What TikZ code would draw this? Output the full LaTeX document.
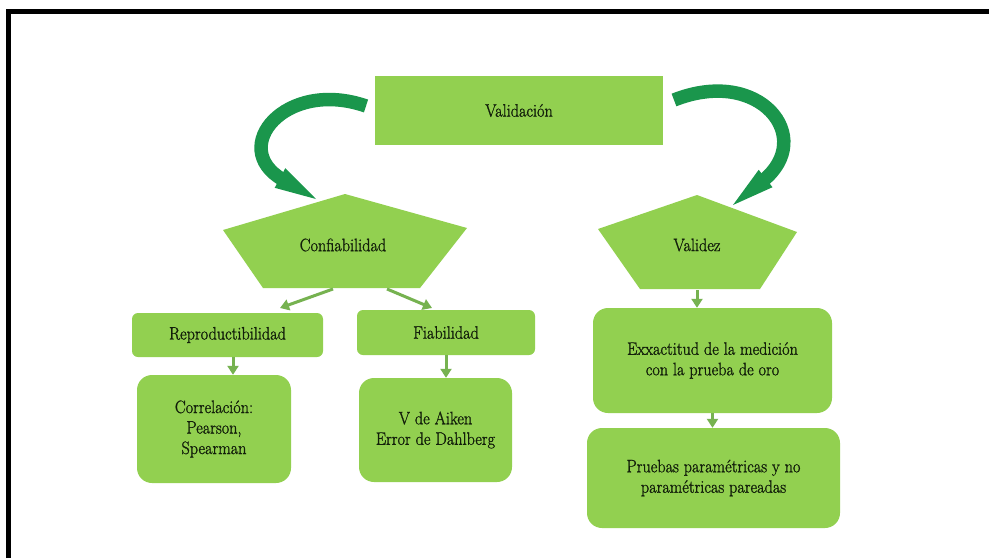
\documentclass[tikz,border=0pt]{standalone}
\usepackage{fontspec}
\newfontfamily\lbfont{Latin Modern Roman}[FakeStretch=0.9, FakeBold=1.2]
\usetikzlibrary{arrows.meta}
\definecolor{boxgreen}{RGB}{146,208,80}
\definecolor{arrowdark}{RGB}{26,150,76}
\definecolor{smallarrow}{RGB}{118,178,80}
\definecolor{txt}{RGB}{18,30,10}
\begin{document}
\begin{tikzpicture}[x=1pt,y=-1pt,
  lbl/.style={font=\lbfont\fontsize{18}{20.5}\selectfont, text=txt, align=center, inner sep=0pt},
  gbox/.style={lbl, fill=boxgreen},
  smallarr/.style={draw=smallarrow, line width=3pt, -{Triangle[length=9pt,width=11pt]}},
  bigbody/.style={draw=arrowdark, line width=13.5pt},
  bighead/.style={fill=arrowdark}
]
\useasboundingbox (0,0) rectangle (989,558);
\fill[white] (0,0) rectangle (989,558);
\draw[line width=5pt] (8.5,558) -- (8.5,11.5) -- (989,11.5);

% top box
\node[gbox, minimum width=288pt, minimum height=69pt] (valid) at (519,110.5) {Validación};

% pentagons
\coordinate (ca) at (345,194);
\coordinate (cl) at (223,230);
\coordinate (cbl) at (263,288);
\coordinate (cbr) at (420,288);
\coordinate (cr) at (467,228);
\fill[boxgreen] (ca) -- (cl) -- (cbl) -- (cbr) -- (cr) -- cycle;
\node[lbl] (conf) at (343,245) {Confiabilidad};

\coordinate (va) at (697,195);
\coordinate (vl) at (598,229);
\coordinate (vbl) at (640,289);
\coordinate (vbr) at (760,289);
\coordinate (vr) at (797,232);
\fill[boxgreen] (va) -- (vl) -- (vbl) -- (vbr) -- (vr) -- cycle;
\node[lbl] (valz) at (697,245) {Validez};

% boxes
\node[gbox, rounded corners=6pt, minimum width=191pt, minimum height=44pt] (rep) at (227.5,335) {Reproductibilidad};
\node[gbox, rounded corners=6pt, minimum width=178pt, minimum height=45pt] (fia) at (446,332.5) {Fiabilidad};
\node[gbox, rounded corners=15pt, minimum width=154pt, minimum height=108pt] (cor) at (214,429) {Correlación:\\Pearson,\\Spearman};
\node[gbox, rounded corners=15pt, minimum width=153pt, minimum height=104pt] (aik) at (435.5,430) {V de Aiken\\Error de Dahlberg};
\node[gbox, rounded corners=15pt, minimum width=239pt, minimum height=105pt] (exa) at (712.5,360.5) {Exxactitud de la medición\\con la prueba de oro};
\node[gbox, rounded corners=15pt, minimum width=253pt, minimum height=100pt] (pru) at (713.5,478) {Pruebas paramétricas y no\\paramétricas pareadas};

% big curved arrows (body + head)
\coordinate (lt) at (366,106);
\coordinate (lb) at (282.6,179.5);
\coordinate (lbar1) at (274.7,187.8);
\coordinate (lbar2) at (285.3,168.2);
\coordinate (ltip) at (316,199);
\draw[bigbody] (lt) .. controls (285,78) and (228,148) .. (lb);
\fill[bighead] (lbar1) -- (ltip) -- (lbar2) -- cycle;

\coordinate (rt) at (674,100);
\coordinate (rb) at (763.3,180.4);
\coordinate (rbar1) at (772.5,187.2);
\coordinate (rbar2) at (758.7,169.8);
\coordinate (rtip) at (733,205);
\draw[bigbody] (rt) .. controls (760,66) and (816.1,137.5) .. (rb);
\fill[bighead] (rbar1) -- (rtip) -- (rbar2) -- cycle;

% small arrows
\coordinate (c1s) at (333,289);
\coordinate (c1e) at (280,308);
\coordinate (c2s) at (387,289);
\coordinate (c2e) at (432,308);
\draw[smallarr] (c1s) -- (c1e);
\draw[smallarr] (c2s) -- (c2e);
\coordinate (vbot) at (697,290);
\draw[smallarr] (vbot) -- (vbot |- exa.north);
\coordinate (ax) at (233,0);
\draw[smallarr] (rep.south -| ax) -- (cor.north -| ax);
\draw[smallarr] (fia.south) -- (fia.south |- aik.north);
\draw[smallarr] (exa.south) -- (exa.south |- pru.north);
\end{tikzpicture}
\end{document}
